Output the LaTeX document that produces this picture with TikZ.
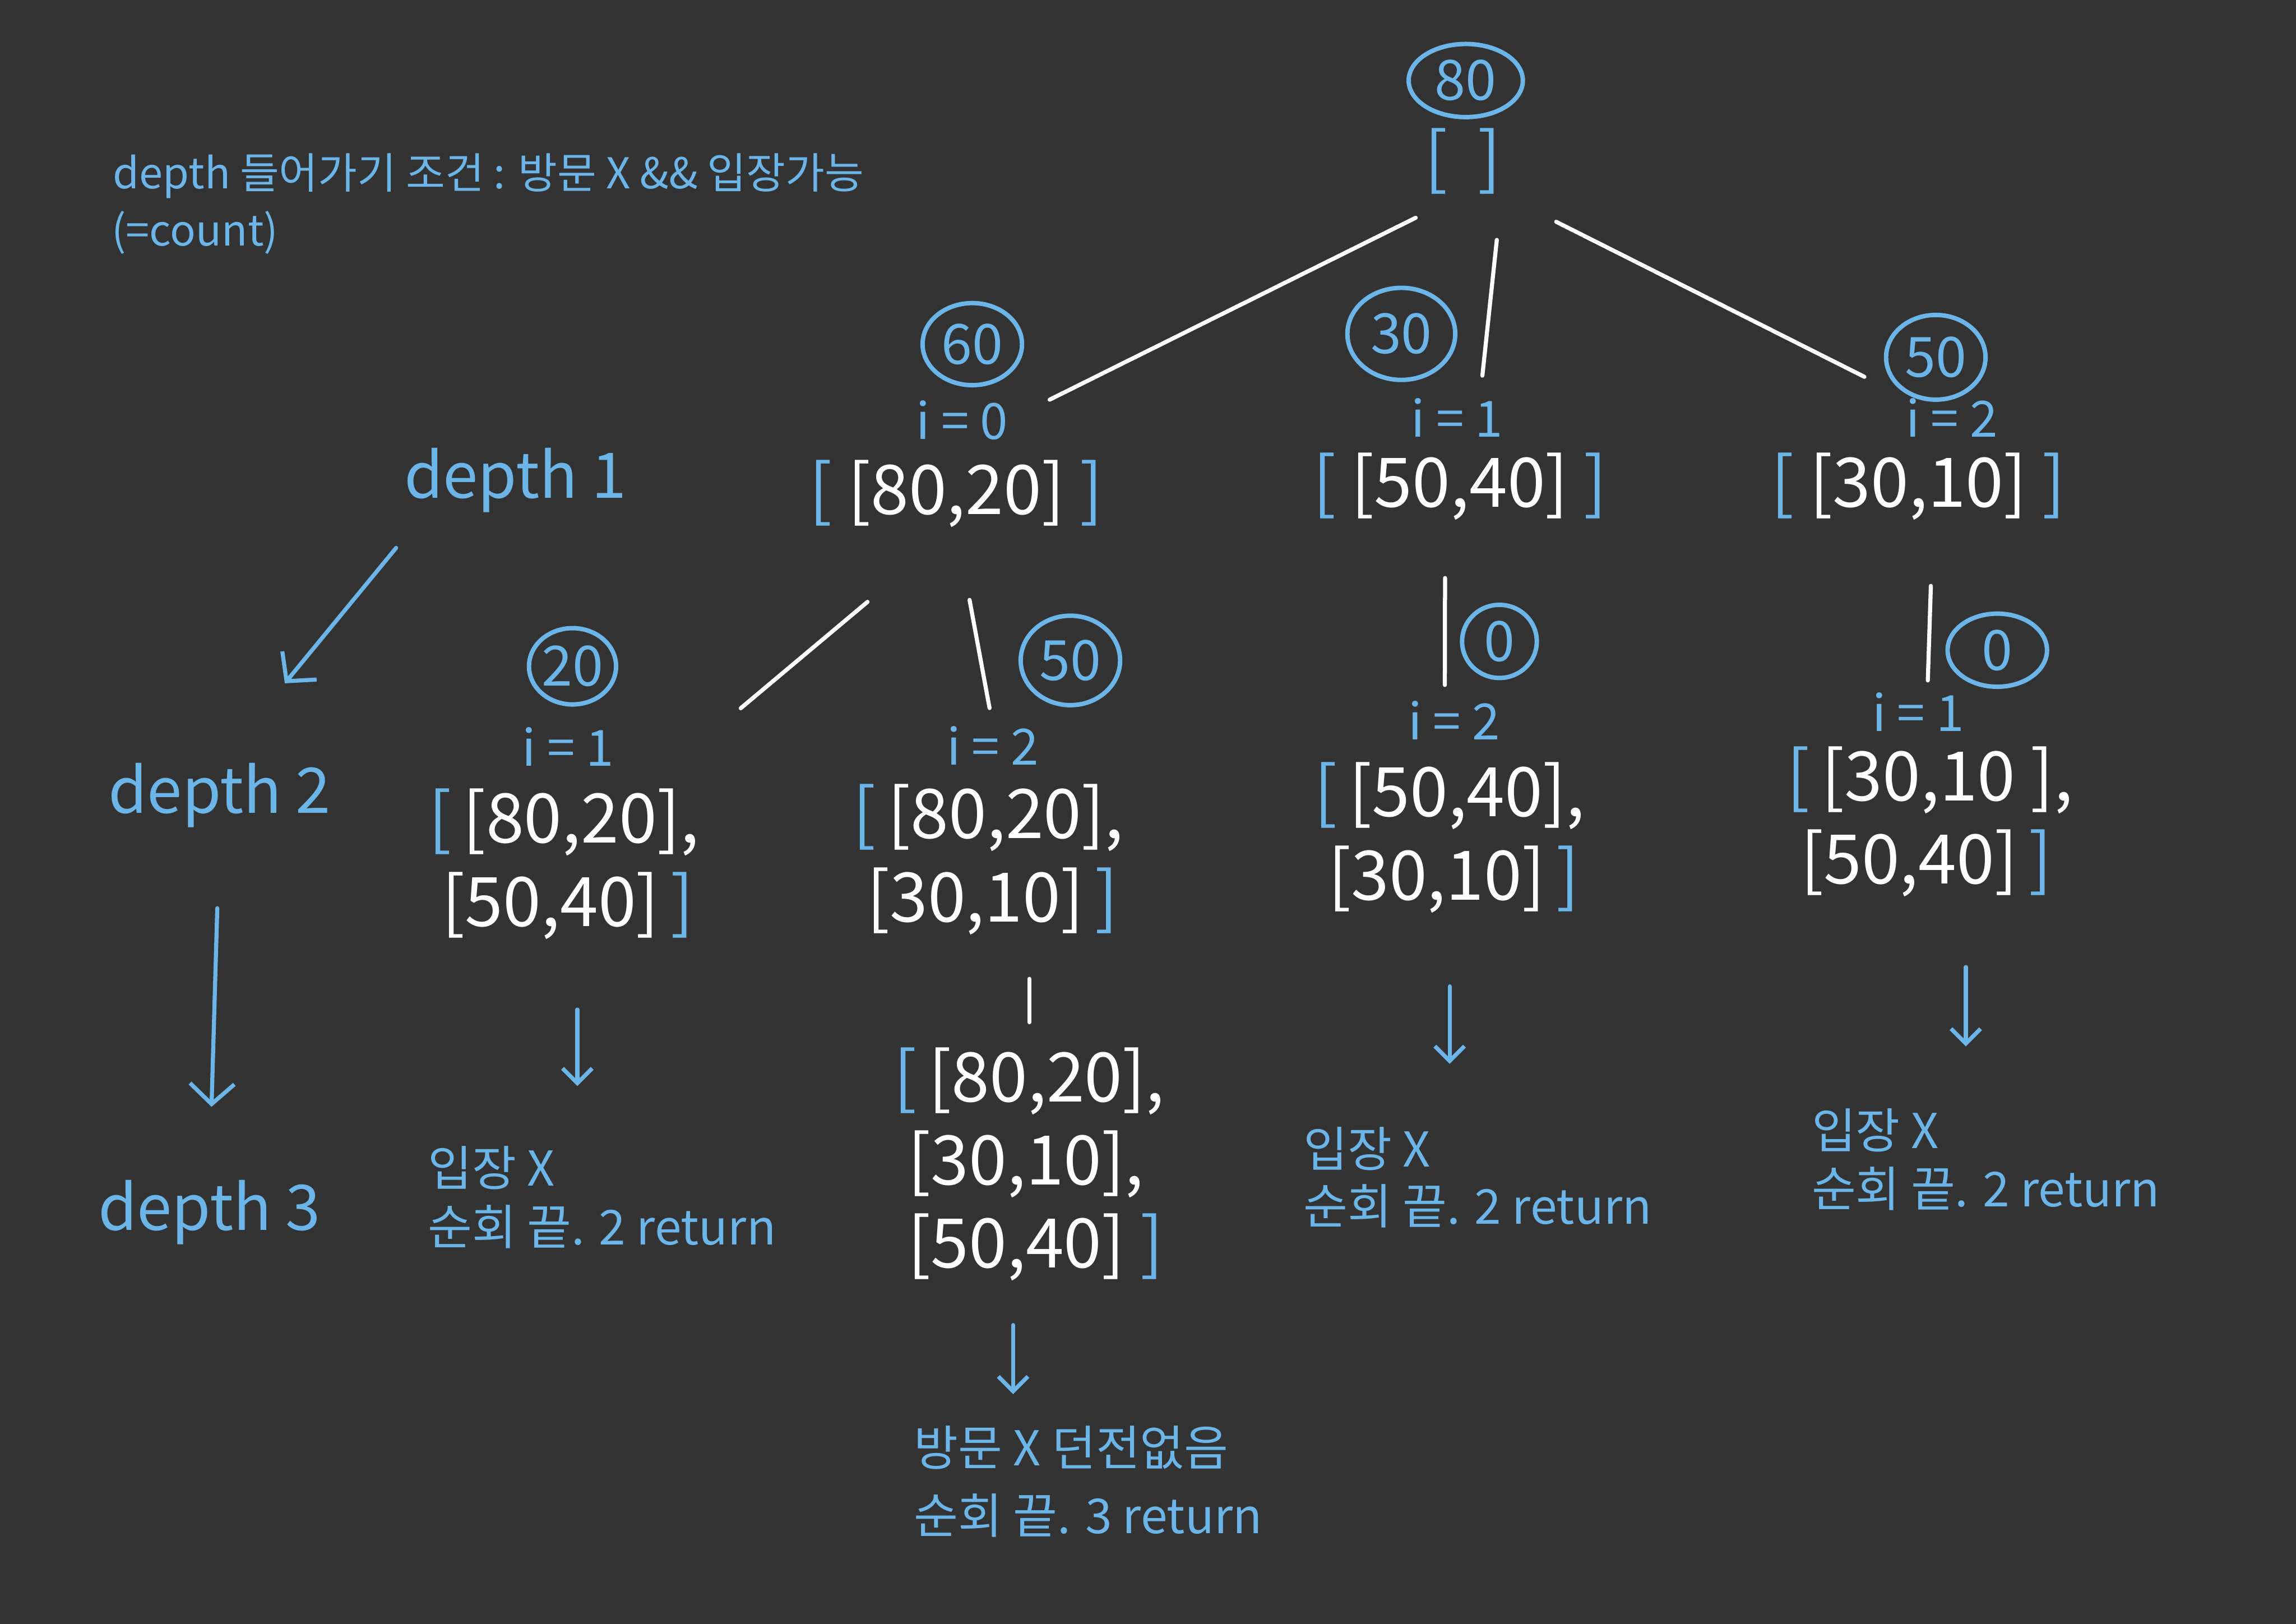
\documentclass[tikz,border=0pt]{standalone}
\usepackage{fontspec}
\setmainfont{Noto Sans CJK KR}
\usetikzlibrary{shapes.geometric,arrows.meta,positioning,calc}
\definecolor{boardbg}{HTML}{333333}
\definecolor{penblue}{HTML}{6CB5E8}
\newcommand{\ob}{{\color{penblue}[}}
\newcommand{\cb}{{\color{penblue}]}}

\begin{document}
\begin{tikzpicture}[
  x=0.02783cm, y=-0.02783cm,
  num/.style={ellipse, draw=penblue, line width=2.4pt, text=penblue, inner sep=0pt, font=\fontsize{30}{36}\selectfont},
  idx/.style={text=penblue, inner sep=0pt, font=\fontsize{27}{32}\selectfont},
  lst/.style={text=white, align=left, inner sep=0pt, font=\fontsize{37}{45}\selectfont},
  lvl/.style={text=penblue, inner sep=0pt, font=\fontsize{34}{40}\selectfont},
  note/.style={text=penblue, anchor=base west, inner sep=0pt, font=\fontsize{26}{32}\selectfont},
  tline/.style={draw=white, line width=2.2pt, line cap=round},
  barrow/.style={draw=penblue, line width=2.2pt, line cap=round, -{Straight Barb[length=8pt,width=16pt]}},
  >=Stealth
]
\fill[boardbg] (0,0) rectangle (1568,1109);

% condition note
\node[note, font=\fontsize{23}{28}\selectfont] (cond) at (77,129) {depth 들어가기 조건 : 방문 X \&\& 입장가능};
\node[note, font=\fontsize{23}{28}\selectfont] (cnt) at (76,168) {(=count)};

% depth labels
\node[lvl] (d1) at (352,328) {depth 1};
\node[lvl] (d2) at (150,543) {depth 2};
\node[lvl] (d3) at (143,828) {depth 3};
\draw[barrow, -{Straight Barb[length=11pt,width=24pt]}, shorten <=0.86cm, shorten >=1.95cm] ([xshift=0.4cm]d1.south west) -- (d2.north);
\draw[barrow, -{Straight Barb[length=11pt,width=24pt]}, shorten <=1.53cm, shorten >=1.39cm] (d2.south) -- (d3.north);

% root
\node[num, minimum width=2.17cm, minimum height=1.39cm] (c80) at (1001,55) {80};
\node[lst, text=penblue] (root) at (999,110) {[\ \ ]};

% depth 1
\node[num, minimum width=1.89cm, minimum height=1.56cm] (c60) at (664,235) {60};
\node[idx] (i60) at (657,287) {i = 0};
\node[lst] (l60) at (653,337) {\ob\ [80,20]\ \cb};

\node[num, minimum width=2.05cm, minimum height=1.75cm] (c30) at (957,228) {30};
\node[idx] (i30) at (995,285) {i = 1};
\node[lst] (l30) at (997,332) {\ob\ [50,40]\ \cb};

\node[num, minimum width=1.89cm, minimum height=1.61cm] (c50) at (1322,244) {50};
\node[idx] (i50) at (1333,285) {i = 2};
\node[lst] (l50) at (1310,332) {\ob\ [30,10]\ \cb};

\draw[tline, shorten <=1.0cm, shorten >=0.88cm] (root.south) -- (i60.east);
\draw[tline, shorten <=0.87cm, shorten >=0.42cm] (root.south east) -- ($(i30.north)!0.5!(i30.north east)$);
\draw[tline, shorten <=1.16cm, shorten >=0.88cm] (root.south east) -- (i50.north west);

% depth 2
\node[num, minimum width=1.64cm, minimum height=1.45cm] (c20) at (391,455) {20};
\node[idx] (i20) at (388,510) {i = 1};
\node[lst] (l20) at (385,590) {\ob\,[80,20],\\\hspace*{0.2em}[50,40]\,\cb};

\node[num, minimum width=1.89cm, minimum height=1.7cm] (c50b) at (731,451) {50};
\node[idx] (i50b) at (678,509) {i = 2};
\node[lst] (l50b) at (675,587) {\ob\,[80,20],\\\hspace*{0.2em}[30,10]\,\cb};

\node[num, minimum width=1.42cm, minimum height=1.39cm] (c0a) at (1024,438) {0};
\node[idx] (i0a) at (993,492) {i = 2};
\node[lst] (l0a) at (990,572) {\ob\,[50,40],\\\hspace*{0.2em}[30,10]\,\cb};

\node[num, minimum width=1.89cm, minimum height=1.39cm] (c0b) at (1364,444) {0};
\node[idx] (i0b) at (1310,486) {i = 1};
\node[lst] (l0b) at (1318,561) {\ob\,[30,10 ],\\\hspace*{0.2em}[50,40]\,\cb};

\draw[tline, shorten <=2.2cm, shorten >=2.37cm] (l60.south) -- ($(l20.north)!0.6!(l20.north east)$);
\draw[tline, shorten <=1.4cm, shorten >=0.34cm] (l60.south) -- (i50b.north);
\draw[tline, shorten <=1.1cm, shorten >=0.3cm] ($(l30.south)!0.1!(l30.south west)$) -- ($(i0a.north)!0.2!(i0a.north west)$);
\draw[tline, shorten <=1.25cm, shorten >=0.22cm] ($(l50.south)!0.1!(l50.south east)$) -- ($(i0b.north)!0.2!(i0b.north east)$);

% depth 3
\node[lst] (l3) at (703,795) {\ob\,[80,20],\\\hspace*{0.2em}[30,10],\\\hspace*{0.2em}[50,40]\ \cb};
\draw[tline, shorten <=0.83cm, shorten >=0.47cm] (l3.north |- l50b.south) -- (l3.north);

% results
\node[note] (r20a) at (292,810) {입장 X};
\node[note] (r20b) at (292,850) {순회 끝. 2 return};
\node[note] (r3a) at (624,1001) {방문 X 던전없음};
\node[note] (r3b) at (624,1047) {순회 끝. 3 return};
\node[note] (r0aa) at (890,797) {입장 X};
\node[note] (r0ab) at (890,836) {순회 끝. 2 return};
\node[note] (r0ba) at (1237,784) {입장 X};
\node[note] (r0bb) at (1237,824) {순회 끝. 2 return};

\coordinate (a20) at ($(l20.south)!0.1!(l20.south east)$);
\coordinate (a3) at ($(l3.south)!0.12!(l3.south west)$);
\coordinate (a0b) at ($(l0b.south)!0.25!(l0b.south east)$);
\draw[barrow, shorten <=1.33cm, shorten >=1.14cm] (a20) -- (a20 |- r20a.north);
\draw[barrow, shorten <=0.83cm, shorten >=0.6cm] (a3) -- (a3 |- r3a.north);
\draw[barrow, shorten <=1.39cm, shorten >=1.2cm] (l0a.south) -- (l0a.south |- r0aa.north);
\draw[barrow, shorten <=1.33cm, shorten >=1.17cm] (a0b) -- (a0b |- r0ba.north);
\end{tikzpicture}
\end{document}
